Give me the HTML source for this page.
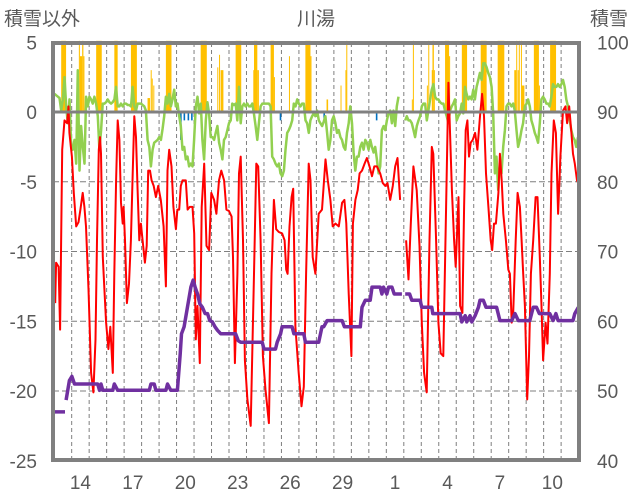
<!DOCTYPE html>
<html><head><meta charset="utf-8"><style>
html,body{margin:0;padding:0;background:#fff;}
svg{display:block;font-family:"Liberation Sans","Noto Sans CJK JP",sans-serif;}
</style></head><body>
<svg id="chart" width="636" height="501" viewBox="0 0 636 501" xmlns="http://www.w3.org/2000/svg">
<g id="grid"></g>
<g id="bars"></g>
<g id="lines"></g>
<g id="frame"></g>
<g id="labels" fill="#595959" font-size="19"></g>
<text x="4" y="25" font-size="19" fill="#595959">積雪以外</text>
<text x="316" y="25" font-size="19" fill="#595959" text-anchor="middle">川湯</text>
<text x="590" y="25" font-size="19" fill="#595959">積雪</text>
</svg>
<script>
const leftTicks=[5,0,-5,-10,-15,-20,-25];
const rightTicks=[100,90,80,70,60,50,40];
const dayLabels=["14","17","20","23","26","29","1","4","7","10"];
const dayLabelT=[1.5,4.5,7.5,10.5,13.5,16.5,19.5,22.5,25.5,28.5];

const redT=[0.06,0.11,0.25,0.34,0.46,0.59,0.74,0.82,0.87,1.01,1.12,1.26,1.39,1.50,1.63,1.73,1.82,1.96,2.11,2.24,2.36,2.45,2.55,2.62,2.68,2.78,2.87,2.97,3.10,3.21,3.35,3.44,3.54,3.63,3.73,3.82,3.92,3.97,4.05,4.16,4.28,4.39,4.49,4.58,4.68,4.77,4.87,4.96,5.06,5.19,5.29,5.38,5.48,5.57,5.69,5.82,5.95,6.10,6.26,6.39,6.48,6.58,6.71,6.82,6.96,7.05,7.15,7.24,7.34,
7.53,7.63,7.76,7.91,8.01,8.10,8.20,8.33,8.44,8.58,8.71,8.86,8.99,9.15,9.28,9.43,9.56,9.72,9.85,10.0,10.15,10.23,10.34,10.48,10.57,10.67,10.80,10.91,11.05,11.24,11.43,11.56,11.67,11.81,11.94,12.09,12.28,12.43,12.57,12.7,12.85,13.04,13.18,13.27,13.35,13.46,13.58,13.67,13.8,13.99,14.15,14.28,14.41,14.56,14.66,14.79,14.94,15.13,15.32,
15.52,15.65,15.8,15.93,16.09,16.28,16.47,16.6,16.71,16.85,17.0,17.09,17.23,17.36,17.47,17.61,17.76,17.89,18.04,18.18,18.31,18.46,18.65,18.8,18.94,19.07,19.22,19.37,19.51,19.64,19.79,19.95,20.13,20.27,20.4,20.55,20.74,20.9,21.03,21.16,21.31,21.47,21.6,21.69,21.85,21.98,22.11,22.26,22.42,22.55,
22.75,22.88,22.97,23.13,23.22,23.35,23.45,23.54,23.64,23.73,23.83,23.94,24.08,24.21,24.36,24.48,24.59,24.7,24.84,24.97,25.06,25.16,25.27,25.41,25.5,25.6,25.69,25.84,25.98,26.07,26.17,26.26,26.4,26.51,26.64,26.74,26.83,26.93,27.06,27.16,27.27,27.4,27.54,27.65,27.78,27.88,27.97,28.11,28.22,28.35,28.45,28.58,28.7,28.83,28.96,29.11,29.25,29.34,29.46,29.59,29.68,29.78,29.91,29.98];
const redV=[-13.7,-10.8,-11.1,-15.6,-2.7,-0.6,-0.8,0.4,-1.5,-3.2,-5.8,-8.2,-7.9,-7.0,-5.8,-6.8,-8.2,-12.7,-18.7,-20.1,-16.3,-9.2,-2.7,-1.8,-3.0,-10.4,-12.7,-15.1,-17.0,-15.4,-18.7,-11.6,-4.9,-0.6,-2.0,-6.5,-8.0,-6.8,-9.2,-13.7,-12.3,-9.2,-4.4,-0.3,-1.8,-5.6,-9.2,-8.0,-9.2,-10.8,-9.6,-4.2,-4.2,-4.9,-5.3,-6.1,-5.3,-6.3,-8.2,-12.5,-4.2,-2.7,-3.9,-6.8,-8.4,-7.0,-7.0,-5.3,-4.9,
-4.9,-7.0,-6.8,-6.8,-8.7,-16.3,-13.9,-18.0,-6.8,-3.7,-9.6,-9.9,-5.8,-6.3,-7.3,-4.9,-4.2,-4.9,-7.0,-7.1,-7.5,-10.4,-18.0,-11.6,-4.4,-3.2,-9.2,-17.8,-20.6,-22.5,-11.6,-3.7,-3.9,-9.2,-17.5,-19.9,-22.3,-11.6,-6.3,-8.4,-8.6,-8.7,-9.2,-11.3,-11.6,-8.2,-6.1,-5.5,-15.4,-18.7,-21.1,-19.7,-11.6,-3.7,-4.9,-10.4,-11.6,-7.3,-7.0,
-3.4,-4.9,-6.3,-8.2,-8.0,-8.2,-6.5,-6.3,-8.0,-13.0,-17.5,-8.0,-6.3,-5.6,-4.4,-4.2,-3.7,-3.3,-3.9,-4.6,-3.9,-3.9,-4.4,-5.1,-5.3,-5.1,-6.3,-5.3,-3.9,-3.3,-6.3,null,-9.2,-12.0,-8.0,-3.9,-5.6,-9.6,-15.1,-18.7,-20.1,-9.2,-2.5,-3.0,-9.2,-15.1,-17.3,-17.5,-6.8,2.1,
-5.6,-9.2,-11.1,-6.1,-13.9,-14.4,-6.8,-1.3,-0.6,-3.2,-2.2,-2.0,-1.5,-2.7,-0.3,1.3,-0.3,-4.4,-6.8,-9.2,-9.9,-8.0,-8.0,-5.8,-3.0,-4.9,-7.3,-9.2,-11.3,-11.6,-15.1,-14.4,-9.2,-5.8,-6.8,-9.2,-11.6,-13.9,-20.6,-17.5,-11.6,-9.2,-6.1,-6.1,-10.4,-13.9,-17.8,-15.1,-16.6,-11.6,-4.4,-0.6,-1.5,-7.3,-3.2,0.1,0.4,-0.8,0.4,-1.5,-3.0,-3.7,-4.9,-5.1];

const greenStart=0.02;
const greenStep=0.09506;
const greenV=[1.3,1.2,1.1,1.0,0.1,0.9,2.5,0.4,-0.8,0.9,-2.5,-2.7,-2.0,-3.7,3.0,-4.2,-1.0,-2.5,-3.7,1.1,0.4,1.1,0.9,0.6,1.1,0.6,-0.3,-2.7,-1.3,0.6,0.6,0.7,0.9,0.7,0.6,0.7,0.9,1.8,0.4,0.4,0.6,0.4,0.6,0.6,0.5,0.5,0.4,1.8,0.4,0.1,0.6,0.6,0.6,0.5,0.4,0.1,-2.0,-2.5,-3.9,-2.7,-2.2,-2.1,-2.0,-1.8,-2.0,-1.2,-0.3,1.1,0.6,1.3,0.4,0.9,1.6,0.4,0.6,-0.3,-1.0,-2.7,-2.5,-3.4,-3.2,-3.9,-3.7,
-3.9,-2.0,0.4,1.1,-0.1,0.6,-2.0,-3.4,-0.6,0.7,-0.1,-1.8,-1.8,-2.0,-1.5,-1.0,-2.2,-2.7,-3.4,-2.0,-1.8,-1.3,-0.8,-0.6,0.6,0.5,0.6,-0.6,1.8,-0.8,0.4,0.6,0.4,0.6,0.4,0.4,0.6,-0.1,-1.0,-2.0,-0.8,0.4,0.6,0.6,0.6,0.6,0.6,0.4,-3.2,-3.4,-3.7,-3.9,-3.7,-4.4,-4.6,-4.2,-2.7,-1.5,-1.3,-1.0,-0.6,0.6,0.4,0.9,0.6,0.4,0.6,0.6,-0.6,-0.8,-1.5,-0.6,-0.3,-0.1,-0.3,0.1,-0.6,-0.8,-1.0,-0.7,-0.3,
-1.5,-2.7,-2.0,-0.6,-0.3,-0.8,-1.5,-1.3,-1.8,-2.0,-2.5,-2.7,-1.5,-0.8,0.4,-0.8,-2.9,-4.2,-3.2,-3.2,-2.5,-2.2,-2.7,-2.0,-2.2,-2.7,-2.0,-2.5,-2.9,-2.5,-3.4,-4.4,-3.9,-1.3,-1.0,-1.3,-0.6,-0.1,0.1,-0.8,0.1,-1.0,0.4,1.1,null,null,null,-0.6,-0.3,-0.6,-0.6,-0.8,-1.3,-1.8,-1.0,-0.6,-0.3,0.4,0.6,0.6,-0.6,0.1,0.9,1.6,2.0,1.1,0.9,0.9,0.7,0.6,0.6,0.1,-0.3,-0.8,0.1,0.4,0.6,0.9,-0.6,-0.3,-0.1,
0.6,-0.1,1.8,1.3,0.9,1.1,0.9,1.6,0.9,1.8,2.3,2.8,2.3,3.5,3.5,3.2,2.8,2.5,1.8,-0.1,-4.4,-3.2,-5.6,-3.7,-4.4,-2.5,-1.3,0.4,0.6,0.6,0.4,0.6,0.1,-1.3,-2.5,-2.0,-1.3,-0.8,0.4,0.6,0.9,0.4,-0.6,-1.0,-1.5,-1.8,-2.2,-0.8,0.9,1.1,0.9,0.6,0.6,0.4,1.1,2.0,1.8,1.8,2.0,1.8,2.0,2.3,1.8,0.9,0.4,-0.6,-1.3,-1.8,-2.0,-2.5,-1.8];

const snowT=[0.02,0.62,0.65,0.68,0.87,1.01,1.16,2.49,2.59,2.68,2.78,3.35,3.44,3.63,5.44,5.53,5.72,5.82,6.39,6.48,6.67,7.05,7.21,7.28,7.43,7.82,7.95,8.06,8.2,8.33,8.48,8.63,8.77,8.9,9.05,9.2,9.34,9.53,10.38,10.53,10.67,11.9,12.0,12.66,12.76,12.95,13.04,13.61,13.71,14.28,14.37,15.13,15.32,15.42,15.61,16.47,16.6,17.51,17.61,17.8,18.08,18.18,18.65,18.75,18.84,19.03,19.13,19.32,19.45,19.89,19.98,20.08,20.33,20.46,20.93,21.03,21.6,21.66,23.22,23.32,23.51,23.6,23.79,23.89,24.08,24.27,24.36,24.55,24.7,25.31,25.5,26.17,26.36,26.55,27.21,27.4,27.59,27.75,28.35,28.54,28.7,28.83,29.68,29.78,29.98];
const snowV=[47.0,47.0,null,48.7,51.5,52.1,51.0,51.0,50.1,51.0,50.1,50.1,51.0,50.1,50.1,51.0,51.0,50.1,50.1,51.0,50.1,50.1,55.3,58.2,59.2,64.9,65.9,64.9,63.9,62.5,62.0,61.1,61.1,60.1,59.9,59.2,58.7,58.2,58.2,57.2,57.0,57.0,56.0,56.0,57.0,58.2,59.2,59.2,58.2,58.2,57.0,57.0,59.2,59.2,60.1,60.1,59.2,59.2,62.0,63.0,63.0,64.9,64.9,63.9,64.9,63.9,64.9,64.9,63.9,63.9,null,63.9,63.9,63.0,63.0,62.0,62.0,61.1,61.1,59.9,60.8,59.9,60.8,59.9,60.8,62.0,63.0,63.0,62.0,62.0,60.1,60.1,61.1,60.1,60.1,62.0,62.0,61.1,61.1,60.1,61.1,60.1,60.1,61.1,62.0];

const precipStart=[0.40,1.41,1.47,1.60,1.67,2.40,3.44,4.39,5.34,5.52,5.58,5.67,6.39,8.38,9.33,9.43,9.52,10.38,11.39,11.43,11.62,12.38,12.57,13.43,14.37,14.66,15.58,16.38,16.66,16.71,20.46,20.52,21.32,21.40,21.60,21.64,21.72,22.36,22.59,23.32,24.40,25.37,26.32,26.43,26.51,26.58,26.70,26.74,27.44,27.73,28.37];
const precipEnd=[0.68,1.47,1.60,1.67,1.73,2.72,3.63,4.73,5.48,5.54,5.60,5.69,6.71,8.73,9.37,9.45,9.68,10.70,11.43,11.62,11.71,12.57,12.62,13.46,14.66,14.72,15.67,16.40,16.71,16.75,20.50,20.55,21.34,21.42,21.64,21.72,21.76,22.59,22.65,23.62,24.74,25.75,26.43,26.45,26.58,26.60,26.72,26.90,27.73,27.78,28.71];
const precipV=[6,6,4.0,6,4.0,6,6,6,1.0,3.0,2.4,1.9,6,6,3.2,4.1,3.0,6,3.0,6,3.0,6,2.5,4.0,6,4.0,0.9,1.9,3.0,6,0.9,6,1.9,6,3.0,6,3.0,6,4.0,6,6,6,3.0,6,3.0,6,6,1.9,6,1.9,6];

const negT=[0.82,7.2,7.4,7.63,7.83,12.9,15.4,18.4];
const negV=[-1.5,-2.0,-0.6,-0.6,-0.6,-0.6,-0.5,-0.6];

const NS="http://www.w3.org/2000/svg";
const X0=54.2, DX=17.48, PL=53, PR=579, PT=43, PB=460;
function xT(t){return X0+DX*t;}
function yL(v){return 112-v*13.95;}
function yR(s){return 112+(90-s)*6.975;}
function mk(tag,attrs,parent){const e=document.createElementNS(NS,tag);for(const k in attrs)e.setAttribute(k,attrs[k]);parent.appendChild(e);return e;}

const grid=document.getElementById('grid');
for(let d=1;d<=29;d++){
  const l=mk('line',{x1:xT(d),x2:xT(d),y1:PT,y2:PB,stroke:'#7f7f7f','stroke-width':1,'stroke-dasharray':'4,3'},grid);
  
  
}
leftTicks.forEach(v=>{
  if(v===5||v===-25||v===0)return;
  const l=mk('line',{x1:PL,x2:PR,y1:yL(v),y2:yL(v),stroke:'#7f7f7f','stroke-width':1,'stroke-dasharray':'6,3'},grid);
  
  
});

const bars=document.getElementById('bars');
precipStart.forEach((s,i)=>{
  const v=Math.min(precipV[i],5.1);
  const x1=xT(s),x2=xT(precipEnd[i]);
  const r=mk('rect',{x:x1,y:yL(v),width:Math.max(x2-x1,1),height:yL(0)-yL(v),fill:'#FFC000'},bars);
  
  
});
negT.forEach((t,i)=>{
  const r=mk('rect',{x:xT(t),y:yL(0),width:1.6,height:yL(negV[i])-yL(0),fill:'#0070C0'},bars);
  
  
});

function pathFrom(ts,vs,yf){
  let d='',pen=false;
  for(let i=0;i<ts.length;i++){
    if(vs[i]===null||vs[i]===undefined){pen=false;continue;}
    d+=(pen?'L':'M')+xT(ts[i]).toFixed(1)+','+yf(vs[i]).toFixed(1);
    pen=true;
  }
  return d;
}
const lines=document.getElementById('lines');
const greenT=greenV.map((v,i)=>greenStart+i*greenStep);
const gp=mk('path',{d:pathFrom(greenT,greenV,yL),fill:'none',stroke:'#92D050','stroke-width':2.5,'stroke-linejoin':'round'},lines);


const rp=mk('path',{d:pathFrom(redT,redV,yL),fill:'none',stroke:'#FF0000','stroke-width':2,'stroke-linejoin':'round'},lines);


const pp=mk('path',{d:pathFrom(snowT,snowV,yR),fill:'none',stroke:'#7030A0','stroke-width':3.5,'stroke-linejoin':'round'},lines);



const frame=document.getElementById('frame');
const zl=mk('line',{x1:PL,x2:PR,y1:yL(0),y2:yL(0),stroke:'#808080','stroke-width':3},frame);


const fr=mk('rect',{x:PL,y:PT,width:PR-PL,height:PB-PT,fill:'none',stroke:'#808080','stroke-width':4},frame);



const labels=document.getElementById('labels');
leftTicks.forEach(v=>{
  const t=mk('text',{x:37,y:yL(v)+7,'text-anchor':'end'},labels);
  t.textContent=String(v);
  
  
});
rightTicks.forEach(s=>{
  const t=mk('text',{x:597,y:yR(s)+7,'text-anchor':'start'},labels);
  t.textContent=String(s);
  
  
});
dayLabels.forEach((lab,i)=>{
  const t=mk('text',{x:xT(dayLabelT[i]),y:489,'text-anchor':'middle'},labels);
  t.textContent=lab;
  
  
});
</script>
</body></html>
